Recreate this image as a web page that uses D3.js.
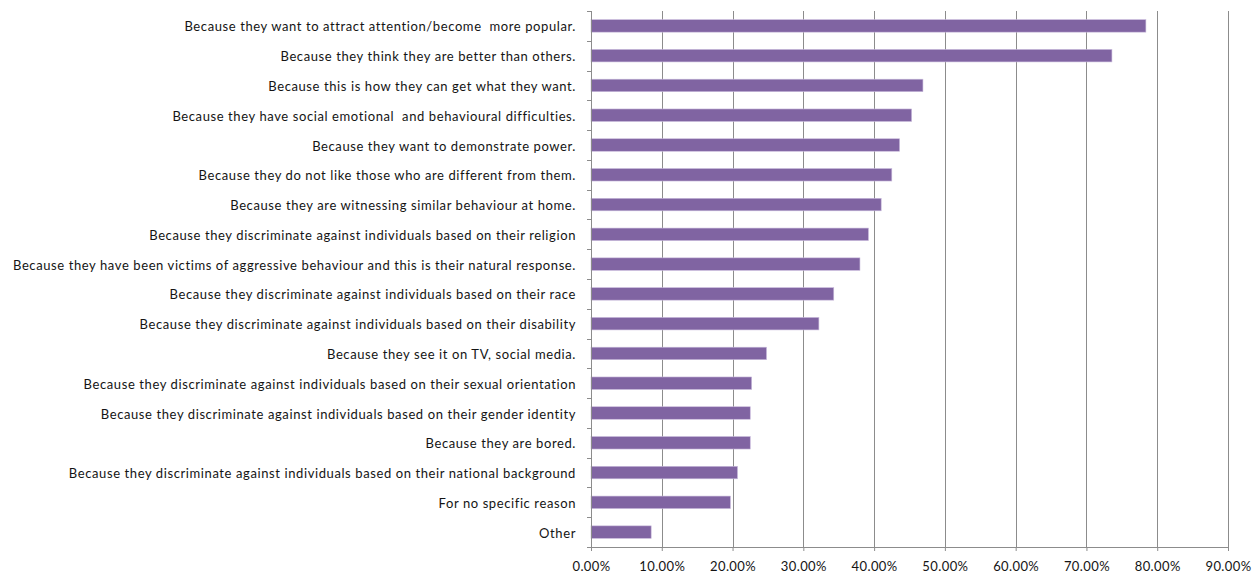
<!DOCTYPE html>
<html>
<head>
<meta charset="utf-8">
<script src="https://cdn.jsdelivr.net/npm/d3@7"></script>
<style>
  html, body { margin: 0; padding: 0; background: #fff; }
  svg { display: block; }
  text { font-family: Lato, "Open Sans", sans-serif; fill: #141414; }
</style>
</head>
<body>
<svg id="chart" width="1256" height="573"></svg>
<script>
// Reasons given for the behaviour, top to bottom
const categories = [
  "Because they want to attract attention/become  more popular.",
  "Because they think they are better than others.",
  "Because this is how they can get what they want.",
  "Because they have social emotional  and behavioural difficulties.",
  "Because they want to demonstrate power.",
  "Because they do not like those who are different from them.",
  "Because they are witnessing similar behaviour at home.",
  "Because they discriminate against individuals based on their religion",
  "Because they have been victims of aggressive behaviour and this is their natural response.",
  "Because they discriminate against individuals based on their race",
  "Because they discriminate against individuals based on their disability",
  "Because they see it on TV, social media.",
  "Because they discriminate against individuals based on their sexual orientation",
  "Because they discriminate against individuals based on their gender identity",
  "Because they are bored.",
  "Because they discriminate against individuals based on their national background",
  "For no specific reason",
  "Other"
];

// Share of respondents (%)
const values = [78.4, 73.6, 46.9, 45.3, 43.6, 42.5, 41.0, 39.2, 38.0, 34.3, 32.2, 24.8, 22.7, 22.5, 22.5, 20.7, 19.7, 8.5];

// Axis ticks (%)
const xTicks = [0, 10, 20, 30, 40, 50, 60, 70, 80, 90];

const svg = d3.select("#chart");
const margin = { left: 591, right: 28, top: 11, bottom: 26 };
const W = 1256, H = 573;
const plotW = W - margin.left - margin.right;
const plotH = H - margin.top - margin.bottom;

const x = d3.scaleLinear().domain([0, 90]).range([0, plotW]);
const y = d3.scaleBand().domain(categories).range([0, plotH]).paddingInner(0.58).paddingOuter(0.29);

const g = svg.append("g").attr("transform", `translate(${margin.left},${margin.top})`);

// vertical gridlines
g.append("g")
  .selectAll("line")
  .data(xTicks.filter(t => t > 0))
  .join("line")
  .attr("x1", d => Math.round(x(d)) + 0.5)
  .attr("x2", d => Math.round(x(d)) + 0.5)
  .attr("y1", 0)
  .attr("y2", plotH)
  .attr("stroke", "#8c8c8c")
  .attr("stroke-width", 1);

// bars
g.append("g")
  .selectAll("rect")
  .data(categories.map((c, i) => ({ c, v: values[i] })))
  .join("rect")
  .attr("x", 0)
  .attr("y", d => y(d.c))
  .attr("width", d => x(d.v))
  .attr("height", y.bandwidth())
  .attr("fill", "#8064a2")
  .attr("stroke", "#c9bbdc")
  .attr("stroke-width", 0.6);

// x axis
const xAxis = d3.axisBottom(x)
  .tickValues(xTicks)
  .tickSize(4)
  .tickPadding(11)
  .tickFormat(d => d.toFixed(2) + "%");

const xg = g.append("g")
  .attr("transform", `translate(0,${plotH})`)
  .call(xAxis);
xg.select(".domain").attr("stroke", "#8c8c8c");
xg.selectAll(".tick line").attr("stroke", "#8c8c8c");
xg.selectAll(".tick text")
  .attr("font-size", "13px")
  .attr("font-family", "Lato, sans-serif")
  .attr("fill", "#141414")
  .style("letter-spacing", "0.4px");

// y axis: ticks sit on category boundaries
const yg = g.append("g");
yg.append("line")
  .attr("x1", 0.5).attr("x2", 0.5)
  .attr("y1", 0).attr("y2", plotH)
  .attr("stroke", "#8c8c8c");
const step = plotH / categories.length;
yg.selectAll("line.tk")
  .data(d3.range(categories.length + 1))
  .join("line")
  .attr("class", "tk")
  .attr("x1", -4).attr("x2", 0.5)
  .attr("y1", d => Math.round(d * step) + 0.5)
  .attr("y2", d => Math.round(d * step) + 0.5)
  .attr("stroke", "#8c8c8c");

yg.selectAll("text")
  .data(categories)
  .join("text")
  .attr("x", -15)
  .attr("y", d => y(d) + y.bandwidth() / 2 + 1)
  .attr("dy", "0.35em")
  .attr("text-anchor", "end")
  .attr("font-size", "13px")
  .style("letter-spacing", "0.6px")
  .style("white-space", "pre")
  .text(d => d);
</script>
</body>
</html>
